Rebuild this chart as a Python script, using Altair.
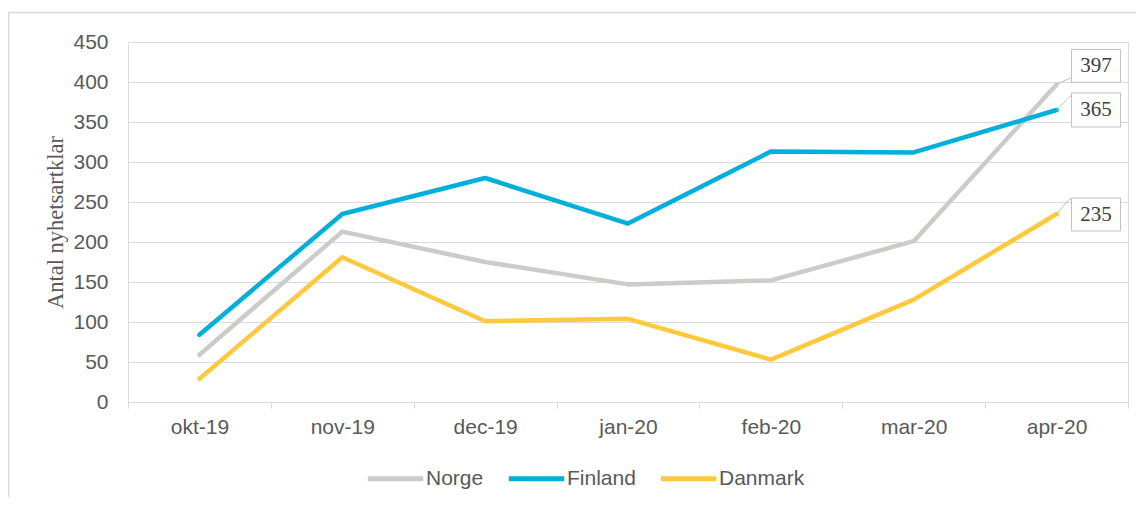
import altair as alt
import pandas as pd

months = ["okt-19", "nov-19", "dec-19", "jan-20", "feb-20", "mar-20", "apr-20"]
series = ["Norge", "Finland", "Danmark"]
norge = [59, 213, 175, 147, 152, 201, 397]
finland = [84, 235, 280, 223, 313, 312, 365]
danmark = [29, 181, 101, 104, 53, 128, 235]
colors = ["#CBCBC7", "#00AFDB", "#FFC83D"]
y_ticks = [0, 50, 100, 150, 200, 250, 300, 350, 400, 450]
y_title = "Antal nyhetsartklar"

rows = []
for s, vals in zip(series, [norge, finland, danmark]):
    for m, v in zip(months, vals):
        rows.append({"month": m, "series": s, "value": v})
df = pd.DataFrame(rows)
last = df[df["month"] == months[-1]].reset_index(drop=True)

GRID = "#D9D9D9"
TXT = "#595959"
SANS = "Liberation Sans"
SERIF = "Liberation Serif"

xscale = alt.Scale(type="band", domain=months, paddingInner=0, paddingOuter=0)
yscale = alt.Scale(domain=[0, 450], nice=False)

X = alt.X("month:N", scale=xscale, bandPosition=0.5, sort=months,
          axis=alt.Axis(title=None, tickBand="extent", grid=False,
                        labelFont=SANS, labelFontSize=21, labelColor=TXT,
                        domainColor=GRID, tickColor=GRID, tickSize=6,
                        labelPadding=8, labelAngle=0))
Y = alt.Y("value:Q", scale=yscale,
          axis=alt.Axis(values=y_ticks, title=y_title, titleFont=SERIF,
                        titleFontSize=22.5, titleFontWeight="normal",
                        titleColor=TXT, titlePadding=5, labelOverlap=False,
                        labelFont=SANS, labelFontSize=21, labelColor=TXT,
                        labelPadding=20, domain=False, ticks=False, tickSize=0,
                        gridColor=GRID, gridWidth=1))

one = pd.DataFrame({"k": [0]})
frame_left = alt.Chart(one).mark_rule(stroke=GRID, strokeWidth=1.5).encode(
    x=alt.value(-119.5), y=alt.value(-30), y2=alt.value(460))
frame_top = alt.Chart(one).mark_rule(stroke=GRID, strokeWidth=1.5).encode(
    x=alt.value(-120), x2=alt.value(1010), y=alt.value(-29.5))

lines = alt.Chart(df).mark_line(strokeWidth=4.5, strokeCap="round", strokeJoin="round").encode(
    x=X, y=Y,
    color=alt.Color("series:N", sort=series,
                    scale=alt.Scale(domain=series, range=colors),
                    legend=alt.Legend(title=None, orient="none", legendX=237, legendY=406,
                                      direction="horizontal", symbolType="stroke",
                                      symbolSize=3080, symbolStrokeWidth=5,
                                      labelFont=SANS, labelFontSize=21, labelColor=TXT,
                                      labelOffset=0, columnPadding=14, padding=0)),
)

# callout label styles per series: (leader path, box path, text dy)
callouts = {
    "Norge": ("M 0 0 L 13 -6 L 15 -6", "M 15 -35 L 64 -35 L 64 -2 L 15 -2 Z", -18.5),
    "Finland": ("M 0 0 L 14 -14 L 15 -14", "M 15 -17 L 64 -17 L 64 17 L 15 17 Z", 0),
    "Danmark": ("M 0 0 L 13 -15 L 15 -15", "M 15 -16 L 64 -16 L 64 17 L 15 17 Z", 0.5),
}

label_layers = []
for s in series:
    lead, box, dy = callouts[s]
    b = alt.Chart(last).transform_filter(alt.datum.series == s)
    label_layers.append(
        b.mark_point(shape=lead, size=4, filled=False, stroke="#BFBFBF",
                     strokeWidth=1, opacity=1).encode(x=X, y=Y)
    )
    label_layers.append(
        b.mark_point(shape=box, size=4, filled=True, fill="white", stroke="#BFBFBF",
                     strokeWidth=1, opacity=1).encode(x=X, y=Y)
    )
    label_layers.append(
        b.mark_text(font=SERIF, fontSize=21, color="#404040", dx=39.5, dy=dy,
                    align="center", baseline="middle").encode(
            x=X, y=Y, text=alt.Text("value:Q"))
    )

chart = alt.layer(frame_left, frame_top, lines, *label_layers).properties(
    width=1000, height=360,
    padding={"left": 120, "top": 34, "right": 8, "bottom": 95},
    autosize=alt.AutoSizeParams(type="none"),
).configure_view(strokeWidth=0, stroke="transparent").configure(background="white")

chart.save("out.html", embed_options={"renderer": "svg", "actions": False})
